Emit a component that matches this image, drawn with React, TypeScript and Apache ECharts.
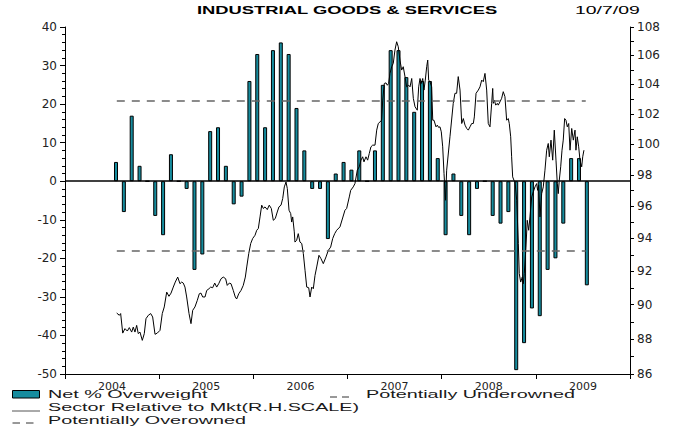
import React, { useEffect, useRef } from 'react';
import * as echarts from 'echarts';

const TITLE = 'INDUSTRIAL GOODS & SERVICES';
const DATE_LABEL = '10/7/09';
const yearLabels = ['2004', '2005', '2006', '2007', '2008', '2009'];
const xMinYear = 2004;
const xMaxYear = 2010;
const leftMin = -50;
const leftMax = 40;
const rightTickLabels = [86, 88, 90, 92, 94, 96, 98, 100, 102, 104, 106, 108];
const rightTickMarks = [86, 87, 88, 89, 90, 91, 92, 93, 94, 95, 96, 97, 98, 99, 100, 101, 102, 103, 104, 105, 106, 107, 108];
const overownedLevel = 21;
const underownedLevel = -18;
const refLineStart = 2004.55;
const refLineEnd = 2009.53;

// Monthly net % overweight, July 2004 .. July 2009
const firstBarYear = 2004;
const firstBarMonth = 7;
const netOverweight = [
  5, -8, 17, 4, 0, -9, -14, 7, 0, -2, -23, -19,
  13, 14, 4, -6, -4, 26, 33, 14, 34, 36, 33, 19,
  8, -2, -2, -15, 2, 5, 3, 8, 0, 8, 25, 34,
  34, 27, 18, 26, 26, 6, -14, 2, -9, -14, -2, 0,
  -9, -11, -8, -49, -42, -33, -35, -23, -20, -11, 6, 6,
  -27,
];

// Sector relative to market (right-hand, log scale): [decimal year, value]
const sectorRelative: [number, number][] = [
  [2004.549, 89.51], [2004.577, 89.38], [2004.591, 89.48], [2004.613, 88.34], [2004.637, 88.6],
  [2004.662, 88.46], [2004.683, 88.66], [2004.708, 88.4], [2004.725, 88.69], [2004.743, 88.4],
  [2004.761, 88.79], [2004.778, 88.31], [2004.796, 88.4], [2004.821, 87.92], [2004.842, 88.31],
  [2004.86, 89.18], [2004.885, 89.38], [2004.91, 89.48], [2004.931, 89.28], [2004.956, 88.27],
  [2004.98, 88.34], [2005.009, 88.5], [2005.033, 89.48], [2005.054, 89.87], [2005.08, 90.75],
  [2005.104, 90.5], [2005.126, 90.69], [2005.15, 91.05], [2005.171, 91.35], [2005.197, 91.65],
  [2005.221, 91.25], [2005.239, 91.35], [2005.256, 91.29], [2005.274, 91.05], [2005.292, 90.46],
  [2005.317, 89.48], [2005.338, 88.89], [2005.356, 89.67], [2005.38, 89.87], [2005.405, 90.26],
  [2005.426, 90.65], [2005.444, 90.69], [2005.462, 90.46], [2005.487, 90.46], [2005.505, 90.85],
  [2005.529, 90.95], [2005.547, 91.05], [2005.568, 91.01], [2005.59, 91.29], [2005.611, 91.05],
  [2005.632, 91.25], [2005.657, 91.55], [2005.681, 91.65], [2005.706, 91.55], [2005.723, 91.15],
  [2005.745, 91.29], [2005.763, 91.25], [2005.787, 90.85], [2005.808, 90.46], [2005.823, 90.34],
  [2005.845, 90.65], [2005.869, 90.85], [2005.893, 91.15], [2005.915, 91.65], [2005.93, 92.26],
  [2005.951, 93.07], [2005.972, 93.69], [2005.993, 94.0], [2006.018, 94.2], [2006.036, 94.51],
  [2006.053, 94.62], [2006.071, 95.34], [2006.089, 96.08], [2006.106, 95.87], [2006.124, 95.97],
  [2006.148, 95.8], [2006.169, 96.08], [2006.191, 95.87], [2006.212, 95.13], [2006.233, 95.24],
  [2006.254, 95.65], [2006.272, 95.97], [2006.294, 96.08], [2006.312, 96.5], [2006.329, 97.24],
  [2006.347, 97.55], [2006.361, 97.13], [2006.379, 95.76], [2006.397, 95.55], [2006.407, 95.02],
  [2006.418, 95.34], [2006.435, 94.41], [2006.442, 93.78], [2006.46, 93.89], [2006.477, 94.3],
  [2006.495, 93.78], [2006.514, 93.69], [2006.531, 93.07], [2006.549, 92.06], [2006.567, 91.05],
  [2006.588, 91.01], [2006.602, 90.46], [2006.62, 91.05], [2006.637, 90.95], [2006.655, 91.75],
  [2006.673, 92.26], [2006.697, 92.97], [2006.718, 92.77], [2006.743, 92.46], [2006.772, 92.87],
  [2006.796, 93.27], [2006.821, 93.47], [2006.843, 94.0], [2006.864, 94.3], [2006.885, 94.51],
  [2006.92, 94.72], [2006.973, 95.76], [2006.991, 95.87], [2007.019, 96.6], [2007.034, 97.02],
  [2007.061, 97.24], [2007.079, 97.45], [2007.104, 98.31], [2007.125, 98.53], [2007.143, 98.96],
  [2007.161, 99.18], [2007.175, 98.85], [2007.196, 99.18], [2007.214, 98.96], [2007.231, 99.39],
  [2007.249, 99.83], [2007.267, 99.94], [2007.292, 99.94], [2007.31, 100.93], [2007.327, 101.37],
  [2007.345, 101.48], [2007.363, 101.59], [2007.374, 102.94], [2007.391, 104.07], [2007.409, 104.11],
  [2007.423, 103.95], [2007.437, 104.07], [2007.451, 104.76], [2007.469, 105.22], [2007.486, 105.45],
  [2007.504, 106.38], [2007.522, 106.96], [2007.539, 106.61], [2007.557, 105.68], [2007.575, 104.99],
  [2007.592, 105.22], [2007.614, 104.41], [2007.628, 103.84], [2007.65, 103.95], [2007.664, 103.84],
  [2007.682, 104.41], [2007.699, 103.06], [2007.717, 102.49], [2007.741, 102.26], [2007.756, 103.84],
  [2007.77, 104.41], [2007.784, 104.07], [2007.799, 104.41], [2007.812, 103.62], [2007.826, 104.3],
  [2007.841, 105.22], [2007.852, 105.68], [2007.862, 104.3], [2007.876, 104.19], [2007.894, 103.84],
  [2007.905, 101.59], [2007.918, 101.59], [2007.94, 101.15], [2007.954, 101.26], [2007.968, 101.11],
  [2007.982, 101.15], [2007.996, 100.82], [2008.011, 99.83], [2008.025, 98.09], [2008.041, 96.39],
  [2008.053, 98.31], [2008.088, 100.49], [2008.123, 102.72], [2008.141, 103.4], [2008.159, 103.4],
  [2008.176, 104.54], [2008.195, 103.62], [2008.213, 101.37], [2008.23, 101.7], [2008.248, 101.26],
  [2008.266, 101.04], [2008.283, 100.93], [2008.301, 101.15], [2008.319, 101.37], [2008.336, 101.37],
  [2008.347, 101.81], [2008.365, 103.4], [2008.389, 103.62], [2008.407, 103.84], [2008.425, 104.3],
  [2008.442, 104.19], [2008.46, 104.76], [2008.478, 103.62], [2008.495, 101.37], [2008.513, 101.15],
  [2008.531, 102.72], [2008.542, 103.73], [2008.548, 102.72], [2008.559, 102.94], [2008.574, 102.6],
  [2008.591, 102.72], [2008.601, 102.6], [2008.619, 102.82], [2008.637, 103.06], [2008.654, 103.51],
  [2008.672, 103.17], [2008.69, 101.59], [2008.707, 101.7], [2008.718, 101.37], [2008.733, 100.49],
  [2008.743, 99.18], [2008.754, 97.88], [2008.768, 97.66], [2008.779, 97.55], [2008.797, 96.39],
  [2008.814, 93.69], [2008.824, 91.86], [2008.839, 91.35], [2008.856, 91.65], [2008.867, 91.25],
  [2008.877, 91.86], [2008.895, 93.47], [2008.909, 95.13], [2008.924, 94.51], [2008.938, 95.34],
  [2008.956, 96.6], [2008.973, 96.92], [2008.991, 97.24], [2009.009, 97.45], [2009.019, 97.02],
  [2009.03, 97.34], [2009.044, 95.34], [2009.062, 96.81], [2009.079, 97.24], [2009.097, 98.31],
  [2009.115, 99.61], [2009.132, 100.05], [2009.143, 99.18], [2009.161, 100.27], [2009.179, 98.96],
  [2009.196, 100.93], [2009.214, 98.96], [2009.228, 97.45], [2009.238, 96.81], [2009.249, 97.66],
  [2009.264, 98.53], [2009.278, 99.61], [2009.291, 100.27], [2009.306, 101.7], [2009.32, 101.59],
  [2009.334, 101.15], [2009.349, 101.37], [2009.363, 99.61], [2009.381, 101.04], [2009.398, 100.27],
  [2009.416, 100.93], [2009.426, 99.61], [2009.44, 100.49], [2009.455, 99.83], [2009.469, 98.96],
  [2009.487, 98.53], [2009.498, 99.18], [2009.511, 99.61],
];

const legendBarLabel = 'Net % Overweight';
const legendLineLabel = 'Sector Relative to Mkt(R.H.SCALE)';
const legendOverLabel = 'Potentially Overowned';
const legendUnderLabel = 'Potentially Underowned';

const TEAL = '#168c9e';
const AXIS_FONT = 'DejaVu Sans';

export default function App() {
  const ref = useRef<HTMLDivElement>(null);

  useEffect(() => {
    if (!ref.current) return;
    const chart = echarts.init(ref.current, undefined, { renderer: 'svg' });

    const barData = netOverweight.map((v, i) => {
      const m = firstBarMonth - 1 + i;
      const year = firstBarYear + Math.floor(m / 12);
      const month = m % 12;
      return [year + (month + 0.5) / 12, v];
    });
    const lineData = sectorRelative.map(([t, v]) => [t, Math.log(v)]);

    const legendText = (text: string, x: number, y: number) => ({
      type: 'text',
      x,
      y,
      scaleX: 1.98,
      silent: true,
      style: {
        text,
        font: '10px "Liberation Sans", Arial, sans-serif',
        fill: '#1a1a1a',
        textVerticalAlign: 'middle',
        verticalAlign: 'middle',
      },
    });

    const option: any = {
      animation: false,
      backgroundColor: '#fff',
      grid: {
        left: 65,
        right: 50,
        top: 27,
        bottom: 54,
        containLabel: false,
        outerBoundsMode: 'none',
      },
      xAxis: [
        {
          type: 'value',
          min: xMinYear,
          max: xMaxYear,
          interval: 1,
          position: 'bottom',
          axisLine: { show: true, onZero: false, lineStyle: { color: '#000', width: 1 } },
          axisTick: { show: true, length: 5, lineStyle: { color: '#000' } },
          axisLabel: { show: false },
          splitLine: { show: false },
        },
        {
          type: 'category',
          data: yearLabels,
          position: 'bottom',
          boundaryGap: true,
          axisLine: { show: false },
          axisTick: { show: false },
          splitLine: { show: false },
          axisLabel: {
            margin: 7,
            fontFamily: AXIS_FONT,
            fontSize: 11,
            color: '#222',
          },
        },
      ],
      yAxis: [
        {
          type: 'value',
          position: 'left',
          min: leftMin,
          max: leftMax,
          interval: 10,
          axisLine: { show: true, onZero: false, lineStyle: { color: '#000', width: 1 } },
          axisTick: { show: true, length: 5, lineStyle: { color: '#000' } },
          minorTick: { show: true, splitNumber: 5, length: 3, lineStyle: { color: '#000' } },
          axisLabel: { margin: 8, fontFamily: AXIS_FONT, fontSize: 12, color: '#222' },
          splitLine: { show: false },
        },
        {
          type: 'value',
          position: 'right',
          min: Math.log(rightTickLabels[0]),
          max: Math.log(rightTickLabels[rightTickLabels.length - 1]),
          axisLine: { show: true, onZero: false, lineStyle: { color: '#000', width: 1 } },
          axisTick: {
            show: true,
            length: 4,
            customValues: rightTickMarks.map((v) => Math.log(v)),
            lineStyle: { color: '#000' },
          },
          axisLabel: {
            margin: 7,
            fontFamily: AXIS_FONT,
            fontSize: 12,
            color: '#222',
            customValues: rightTickLabels.map((v) => Math.log(v)),
            formatter: (v: number) => String(Math.round(Math.exp(v))),
          },
          splitLine: { show: false },
        },
      ],
      series: [
        {
          type: 'bar',
          name: legendBarLabel,
          xAxisIndex: 0,
          yAxisIndex: 0,
          data: barData,
          barWidth: 4,
          itemStyle: {
            color: TEAL,
            borderColor: '#000',
            borderWidth: 1,
          },
          z: 2,
          markLine: {
            silent: true,
            symbol: 'none',
            label: { show: false },
            data: [
              {
                yAxis: 0,
                lineStyle: { color: '#000', width: 1.5, type: 'solid' },
              },
              [
                {
                  coord: [refLineStart, overownedLevel],
                  lineStyle: { color: '#666', width: 1.5, type: [8, 7] },
                },
                { coord: [refLineEnd, overownedLevel] },
              ],
              [
                {
                  coord: [refLineStart, underownedLevel],
                  lineStyle: { color: '#666', width: 1.5, type: [8, 7] },
                },
                { coord: [refLineEnd, underownedLevel] },
              ],
            ],
          },
        },
        {
          type: 'line',
          name: legendLineLabel,
          xAxisIndex: 0,
          yAxisIndex: 1,
          data: lineData,
          symbol: 'none',
          smooth: false,
          lineStyle: { color: '#000', width: 1 },
          z: 4,
        },
      ],
      graphic: [
        {
          type: 'text',
          x: 197,
          y: 10,
          scaleX: 1.67,
          silent: true,
          style: {
            text: TITLE,
            font: 'bold 11px "Liberation Sans", Arial, sans-serif',
            fill: '#000',
            textVerticalAlign: 'middle',
            verticalAlign: 'middle',
          },
        },
        {
          type: 'text',
          x: 575,
          y: 10.5,
          scaleX: 1.69,
          silent: true,
          style: {
            text: DATE_LABEL,
            font: '11.5px "Liberation Sans", Arial, sans-serif',
            fill: '#000',
            textVerticalAlign: 'middle',
            verticalAlign: 'middle',
          },
        },
        {
          type: 'rect',
          shape: { x: 12.5, y: 390.5, width: 27, height: 7.5 },
          silent: true,
          style: { fill: TEAL, stroke: '#000', lineWidth: 1 },
        },
        legendText(legendBarLabel, 48, 394.5),
        {
          type: 'line',
          shape: { x1: 330, y1: 397, x2: 337, y2: 397 },
          silent: true,
          style: { stroke: '#333', lineWidth: 1 },
        },
        {
          type: 'line',
          shape: { x1: 342, y1: 397, x2: 349, y2: 397 },
          silent: true,
          style: { stroke: '#333', lineWidth: 1 },
        },
        legendText(legendUnderLabel, 366, 394.5),
        {
          type: 'line',
          shape: { x1: 12, y1: 411, x2: 40, y2: 411 },
          silent: true,
          style: { stroke: '#555', lineWidth: 1 },
        },
        legendText(legendLineLabel, 48, 407.5),
        {
          type: 'line',
          shape: { x1: 12.5, y1: 423, x2: 20, y2: 423 },
          silent: true,
          style: { stroke: '#333', lineWidth: 1 },
        },
        {
          type: 'line',
          shape: { x1: 26, y1: 423, x2: 33.5, y2: 423 },
          silent: true,
          style: { stroke: '#333', lineWidth: 1 },
        },
        legendText(legendOverLabel, 48, 420.5),
      ],
    };

    chart.setOption(option);
    return () => {
      chart.dispose();
    };
  }, []);

  return (
    <div
      ref={ref}
      style={{ position: 'absolute', left: 0, top: 0, width: 680, height: 428, background: '#fff' }}
    />
  );
}
